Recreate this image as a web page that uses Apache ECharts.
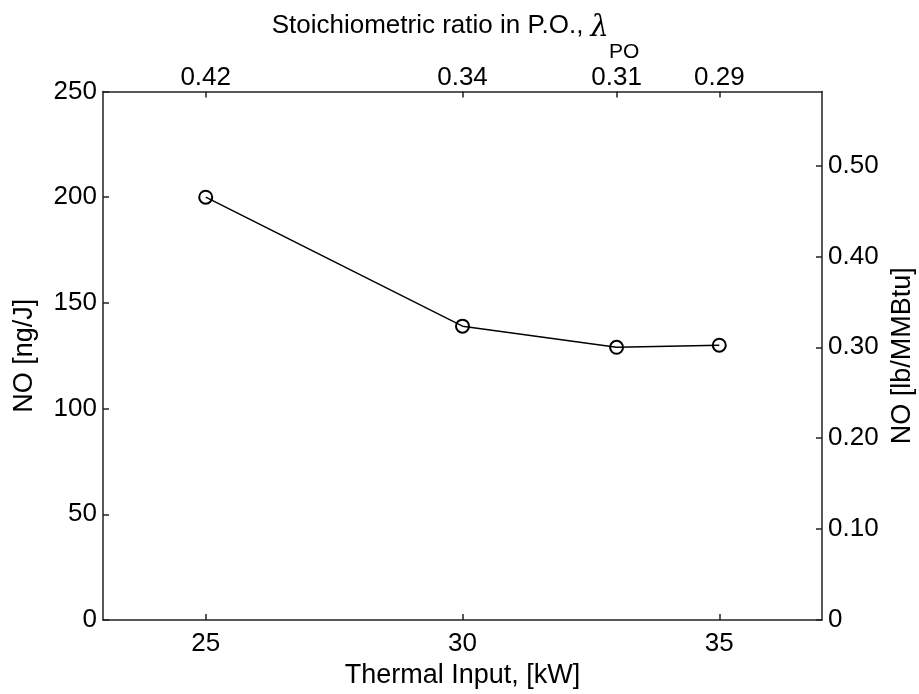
<!DOCTYPE html>
<html><head><meta charset="utf-8">
<script src="https://cdn.jsdelivr.net/npm/echarts@6/dist/echarts.min.js"></script>
<style>html,body{margin:0;padding:0;background:#fff;overflow:hidden}#c{width:919px;height:694px}</style>
</head><body><div id="c"></div>
<script>
const thermalInput = [25, 30, 33, 35];
const noNgJ = [200, 139, 129, 130];
const lambdaPO = ['0.42', '0.34', '0.31', '0.29'];
const bottomTicks = [25, 30, 35];
const rightTicks = [0, 0.1, 0.2, 0.3, 0.4, 0.5];
const NGJ_PER_LB_MMBTU = 430;

const font = 'Liberation Sans, Arial, Helvetica, sans-serif';
const axisColor = '#222';
const FS = 26;
const TS = 27;
const chart = echarts.init(document.getElementById('c'), null, {renderer: 'canvas'});
const line = {show: true, onZero: false, lineStyle: {color: axisColor, width: 1.5}};
const tickStyle = {color: axisColor, width: 1.5};
chart.setOption({
  animation: false,
  backgroundColor: '#fff',
  grid: {left: 103, right: 97, top: 91.5, bottom: 74, containLabel: false, outerBoundsMode: 'none'},
  xAxis: [
    {
      type: 'value', position: 'bottom', min: 23, max: 37,
      axisLine: line, splitLine: {show: false},
      name: 'Thermal Input, [kW]', nameLocation: 'middle', nameGap: 40,
      nameTextStyle: {fontFamily: font, fontSize: TS, color: '#000'},
      axisTick: {show: true, inside: true, length: 6, customValues: bottomTicks, lineStyle: tickStyle},
      axisLabel: {customValues: bottomTicks, margin: 11, fontFamily: font, fontSize: FS, color: '#000'}
    },
    {
      type: 'value', position: 'top', min: 23, max: 37,
      axisLine: line, splitLine: {show: false},
      name: 'Stoichiometric ratio in P.O., {l|λ}{s|PO}', nameLocation: 'middle', nameGap: 29,
      nameMoveOverlap: false,
      nameTextStyle: {fontFamily: font, fontSize: FS, color: '#000', padding: [0, 14, 0, 0],
        rich: {
          l: {fontFamily: 'DejaVu Serif, serif', fontStyle: 'italic', fontSize: 29, color: '#000', padding: [4, 0, 0, 0]},
          s: {fontFamily: font, fontSize: 21, color: '#000', padding: [52, 0, 0, 0]}
        }},
      axisTick: {show: true, inside: true, length: 6, customValues: thermalInput, lineStyle: tickStyle},
      axisLabel: {customValues: thermalInput, margin: 1, fontFamily: font, fontSize: FS, color: '#000',
        formatter: v => { const i = thermalInput.indexOf(v); return i >= 0 ? lambdaPO[i] : ''; }}
    }
  ],
  yAxis: [
    {
      type: 'value', position: 'left', min: 0, max: 250, interval: 50,
      axisLine: line, splitLine: {show: false},
      name: 'NO [ng/J]', nameLocation: 'middle', nameGap: 65,
      nameTextStyle: {fontFamily: font, fontSize: TS, color: '#000'},
      axisTick: {show: true, inside: true, length: 6, lineStyle: tickStyle},
      axisLabel: {margin: 6, fontFamily: font, fontSize: FS, color: '#000'}
    },
    {
      type: 'value', position: 'right', min: 0, max: 250 / NGJ_PER_LB_MMBTU,
      axisLine: line, splitLine: {show: false},
      name: 'NO [lb/MMBtu]', nameLocation: 'middle', nameGap: 66,
      nameTextStyle: {fontFamily: font, fontSize: TS, color: '#000'},
      axisTick: {show: true, inside: true, length: 6, customValues: rightTicks, lineStyle: tickStyle},
      axisLabel: {customValues: rightTicks, margin: 6, fontFamily: font, fontSize: FS, color: '#000',
        formatter: v => v === 0 ? '0' : v.toFixed(2)}
    }
  ],
  series: [{
    type: 'line', xAxisIndex: 0, yAxisIndex: 0,
    data: thermalInput.map((x, i) => [x, noNgJ[i]]),
    symbol: 'circle', symbolSize: 13, showAllSymbol: true,
    lineStyle: {color: '#000', width: 1.5},
    itemStyle: {color: 'rgba(0,0,0,0)', borderColor: '#000', borderWidth: 2}
  }]
});
</script></body></html>
